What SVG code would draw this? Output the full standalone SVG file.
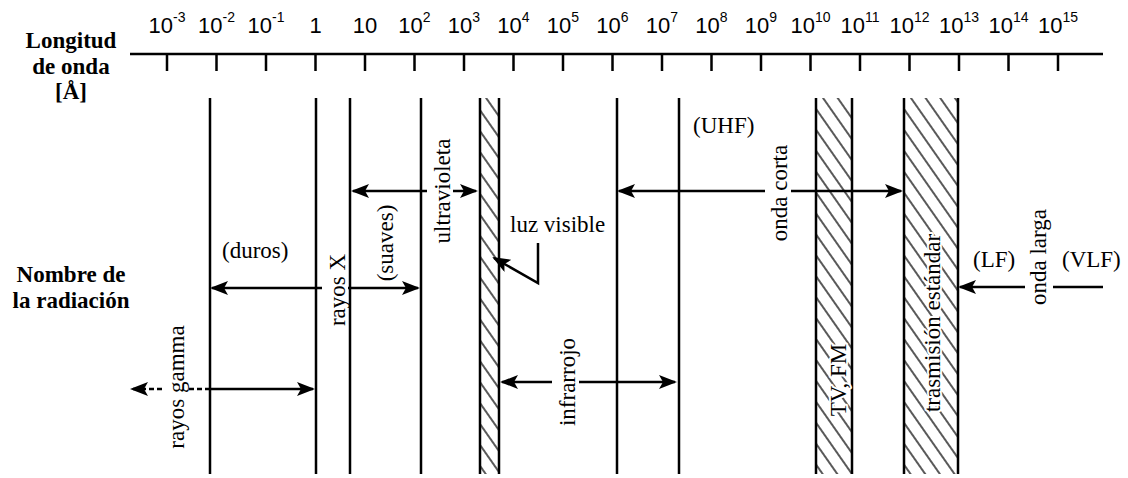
<svg xmlns="http://www.w3.org/2000/svg" width="1128" height="478" viewBox="0 0 1128 478">
  <style>
    .axis { stroke: #000; stroke-width: 2.5; fill: none; }
    .tick { font-size: 22px; fill: #000; text-anchor: middle; }
    .sup { font-size: 14px; }
    .hdr { font-size: 23px; font-weight: bold; fill: #000; text-anchor: middle; }
    .lbl { font-size: 23px; fill: #000; }
    .rot { text-anchor: middle; }
    .halo { stroke: #fff; stroke-width: 4; paint-order: stroke; stroke-linejoin: round; }
    .bound { stroke: #000; stroke-width: 2.5; }
    .band { fill: url(#hatch); stroke: none; }
    .arr { stroke: #000; stroke-width: 2.5; fill: none; }
    .dash { stroke-dasharray: 5 3; }
  </style>
  <defs>
    <pattern id="hatch" patternUnits="userSpaceOnUse" width="12" height="12" patternTransform="rotate(-35)">
      <line x1="6" y1="-1" x2="6" y2="13" stroke="#000" stroke-width="1.3"/>
    </pattern>
    <marker id="ah" markerUnits="userSpaceOnUse" markerWidth="18" markerHeight="14" refX="16" refY="7" orient="auto" viewBox="0 0 18 14">
      <path d="M0,0 L18,7 L0,14 L4,7 z" fill="#000"/>
    </marker>
  </defs>

  <rect width="1128" height="478" fill="#fff"/>

  <!-- wavelength scale -->
  <g id="scale" font-family="Liberation Sans, Arial, sans-serif">
    <line class="axis" x1="130" y1="54" x2="1103" y2="54"/>
    <path class="axis" d="M167,54V71 M216.5,54V71 M266,54V71 M315.5,54V71 M365,54V71 M414.5,54V71 M464,54V71 M513.5,54V71 M563,54V71 M612.5,54V71 M662,54V71 M711.5,54V71 M761,54V71 M810.5,54V71 M860,54V71 M909.5,54V71 M959,54V71 M1008.5,54V71 M1058,54V71"/>
    <text class="tick" x="167" y="33">10<tspan class="sup" dy="-11">-3</tspan></text>
    <text class="tick" x="216.5" y="33">10<tspan class="sup" dy="-11">-2</tspan></text>
    <text class="tick" x="266" y="33">10<tspan class="sup" dy="-11">-1</tspan></text>
    <text class="tick" x="315.5" y="33">1</text>
    <text class="tick" x="365" y="33">10</text>
    <text class="tick" x="414.5" y="33">10<tspan class="sup" dy="-11">2</tspan></text>
    <text class="tick" x="464" y="33">10<tspan class="sup" dy="-11">3</tspan></text>
    <text class="tick" x="513.5" y="33">10<tspan class="sup" dy="-11">4</tspan></text>
    <text class="tick" x="563" y="33">10<tspan class="sup" dy="-11">5</tspan></text>
    <text class="tick" x="612.5" y="33">10<tspan class="sup" dy="-11">6</tspan></text>
    <text class="tick" x="662" y="33">10<tspan class="sup" dy="-11">7</tspan></text>
    <text class="tick" x="711.5" y="33">10<tspan class="sup" dy="-11">8</tspan></text>
    <text class="tick" x="761" y="33">10<tspan class="sup" dy="-11">9</tspan></text>
    <text class="tick" x="810.5" y="33">10<tspan class="sup" dy="-11">10</tspan></text>
    <text class="tick" x="860" y="33">10<tspan class="sup" dy="-11">11</tspan></text>
    <text class="tick" x="909.5" y="33">10<tspan class="sup" dy="-11">12</tspan></text>
    <text class="tick" x="959" y="33">10<tspan class="sup" dy="-11">13</tspan></text>
    <text class="tick" x="1008.5" y="33">10<tspan class="sup" dy="-11">14</tspan></text>
    <text class="tick" x="1058" y="33">10<tspan class="sup" dy="-11">15</tspan></text>
  </g>

  <!-- row headings -->
  <g id="heading-wavelength" font-family="Liberation Serif, Times New Roman, DejaVu Serif, serif">
    <text class="hdr" x="71" y="48">Longitud</text>
    <text class="hdr" x="71" y="74">de onda</text>
    <text class="hdr" x="71" y="99">[Å]</text>
  </g>
  <g id="heading-name" font-family="Liberation Serif, Times New Roman, DejaVu Serif, serif">
    <text class="hdr" x="71" y="282">Nombre de</text>
    <text class="hdr" x="71" y="308">la radiación</text>
  </g>

  <!-- region boundaries -->
  <g id="boundaries">
    <path class="bound" d="M210,98V474 M316,98V474 M350,98V474 M421,98V474 M617,98V474 M679,98V474"/>
  </g>

  <!-- hatched bands -->
  <g id="band-visible">
    <rect class="band" x="480" y="98" width="19" height="376"/>
    <path class="bound" d="M480,98V474 M499,98V474"/>
  </g>
  <g id="band-tvfm">
    <rect class="band" x="816" y="98" width="36" height="376"/>
    <path class="bound" d="M816,98V474 M852,98V474"/>
  </g>
  <g id="band-am">
    <rect class="band" x="904" y="98" width="54" height="376"/>
    <path class="bound" d="M904,98V474 M958,98V474"/>
  </g>

  <!-- connectors -->
  <g id="connectors">
    <path class="arr" d="M210,389H313" marker-end="url(#ah)"/>
    <path class="arr dash" d="M210,389H188"/>
    <path class="arr dash" d="M162,389H132" marker-end="url(#ah)"/>
    <path class="arr" d="M322,288H212" marker-end="url(#ah)"/>
    <path class="arr" d="M348,288H418" marker-end="url(#ah)"/>
    <path class="arr" d="M427,191H353" marker-end="url(#ah)"/>
    <path class="arr" d="M453,191H476" marker-end="url(#ah)"/>
    <path class="arr" d="M538,243V283L494,258" marker-end="url(#ah)"/>
    <path class="arr" d="M552,382H502" marker-end="url(#ah)"/>
    <path class="arr" d="M579,382H675" marker-end="url(#ah)"/>
    <path class="arr" d="M765,191H619" marker-end="url(#ah)"/>
    <path class="arr" d="M791,191H901" marker-end="url(#ah)"/>
    <path class="arr" d="M1025,287H960" marker-end="url(#ah)"/>
    <path class="arr" d="M1053,287H1103"/>
  </g>

  <!-- radiation names -->
  <g id="labels" font-family="Liberation Serif, Times New Roman, DejaVu Serif, serif">
    <g id="gamma">
      <text class="lbl rot" x="184" y="387" transform="rotate(-90 184 387)">rayos gamma</text>
    </g>
    <g id="xrays">
      <text class="lbl" x="222" y="258">(duros)</text>
      <text class="lbl rot" x="345" y="290" transform="rotate(-90 345 290)">rayos X</text>
      <text class="lbl rot" x="393" y="243" transform="rotate(-90 393 243)">(suaves)</text>
    </g>
    <g id="uv">
      <text class="lbl rot" x="450" y="191" transform="rotate(-90 450 191)">ultravioleta</text>
    </g>
    <g id="visible">
      <text class="lbl" x="510" y="232">luz visible</text>
    </g>
    <g id="ir">
      <text class="lbl rot" x="575" y="382" transform="rotate(-90 575 382)">infrarrojo</text>
    </g>
    <g id="shortwave">
      <text class="lbl" x="693" y="133">(UHF)</text>
      <text class="lbl rot" x="787" y="193" transform="rotate(-90 787 193)">onda corta</text>
    </g>
    <g id="tvfm">
      <text class="lbl rot halo" x="846" y="380" transform="rotate(-90 846 380)">TV, FM</text>
    </g>
    <g id="am">
      <text class="lbl rot halo" x="940" y="323" transform="rotate(-90 940 323)">trasmisión estándar</text>
    </g>
    <g id="longwave">
      <text class="lbl" x="973" y="267">(LF)</text>
      <text class="lbl rot" x="1046" y="257" transform="rotate(-90 1046 257)">onda larga</text>
      <text class="lbl" x="1062" y="267">(VLF)</text>
    </g>
  </g>
</svg>
